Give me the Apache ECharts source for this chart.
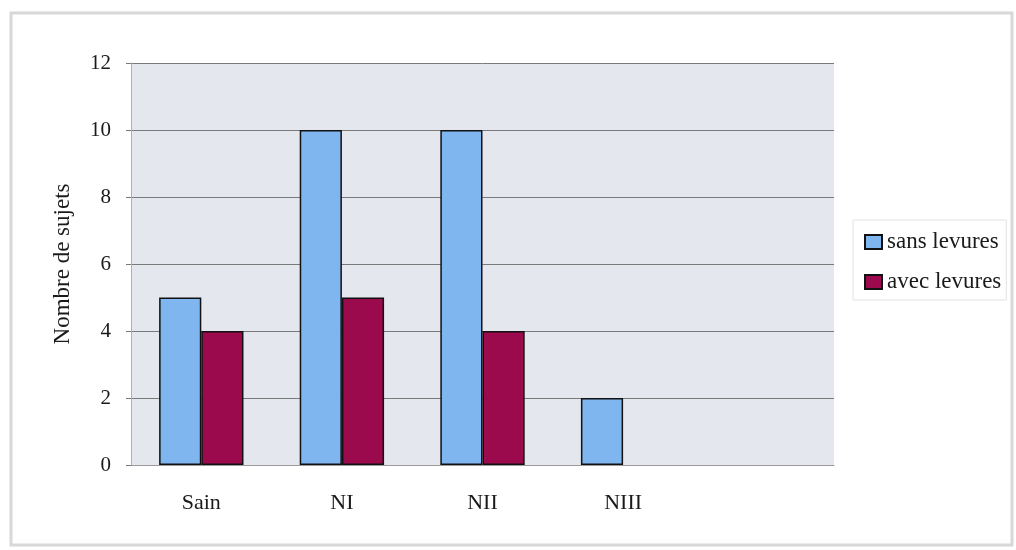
<!DOCTYPE html>
<html>
<head>
<meta charset="utf-8">
<script src="https://cdn.jsdelivr.net/npm/echarts@6/dist/echarts.min.js"></script>
<style>
  html, body { margin: 0; padding: 0; background: #fff; }
  #chart { width: 1016px; height: 550px; }
</style>
</head>
<body>
<div id="chart"></div>
<script>
// Subjects per stage, with and without yeasts
const categories = ['Sain', 'NI', 'NII', 'NIII', ''];
const sansLevures = [5, 10, 10, 2, null];
const avecLevures = [4, 5, 4, null, null];
const seriesNames = ['sans levures', 'avec levures'];
const yTicks = { min: 0, max: 12, interval: 2 };
const yName = 'Nombre de sujets';

const serif = 'Liberation Serif, DejaVu Serif, serif';
const chart = echarts.init(document.getElementById('chart'));

chart.setOption({
  animation: false,
  backgroundColor: '#fff',
  graphic: [{
    type: 'rect',
    shape: { x: 11, y: 13, width: 1001, height: 532 },
    style: { fill: 'none', stroke: '#d8d8d8', lineWidth: 3 },
    silent: true,
    z: -1
  }],
  grid: {
    left: 131, top: 63, width: 703, height: 402,
    show: true, backgroundColor: '#e4e7ed', borderWidth: 0
  },
  legend: {
    orient: 'vertical',
    left: 853, top: 220,
    width: 155,
    padding: [10, 5, 6, 11],
    itemGap: 16,
    itemWidth: 17, itemHeight: 14,
    icon: 'rect',
    backgroundColor: '#fff',
    borderColor: '#e2e2e2', borderWidth: 1,
    textStyle: { fontFamily: serif, fontSize: 23, lineHeight: 24, color: '#1a1a1a' },
    data: seriesNames
  },
  xAxis: {
    type: 'category',
    data: categories,
    axisLine: { lineStyle: { color: '#9a9a9a', width: 1 } },
    axisTick: { show: false },
    axisLabel: { fontFamily: serif, fontSize: 22, color: '#1a1a1a', margin: 27 }
  },
  yAxis: {
    type: 'value',
    min: yTicks.min, max: yTicks.max, interval: yTicks.interval,
    name: yName,
    nameLocation: 'middle',
    nameGap: 57,
    nameTextStyle: { fontFamily: serif, fontSize: 23, color: '#1a1a1a' },
    axisLine: { show: true, lineStyle: { color: '#b0b0b0' } },
    axisTick: { show: true, length: 5, lineStyle: { color: '#777' } },
    axisLabel: { fontFamily: serif, fontSize: 21, color: '#1a1a1a', margin: 20 },
    splitLine: { lineStyle: { color: '#7a7a7a', width: 1 } }
  },
  series: [
    {
      name: seriesNames[0], type: 'bar', data: sansLevures,
      barGap: '0%', barCategoryGap: '40%',
      itemStyle: { color: '#7fb6ef', borderColor: '#111', borderWidth: 1.5 }
    },
    {
      name: seriesNames[1], type: 'bar', data: avecLevures,
      barGap: '0%', barCategoryGap: '40%',
      itemStyle: { color: '#9c0a4e', borderColor: '#111', borderWidth: 1.5 }
    }
  ]
});
</script>
</body>
</html>
